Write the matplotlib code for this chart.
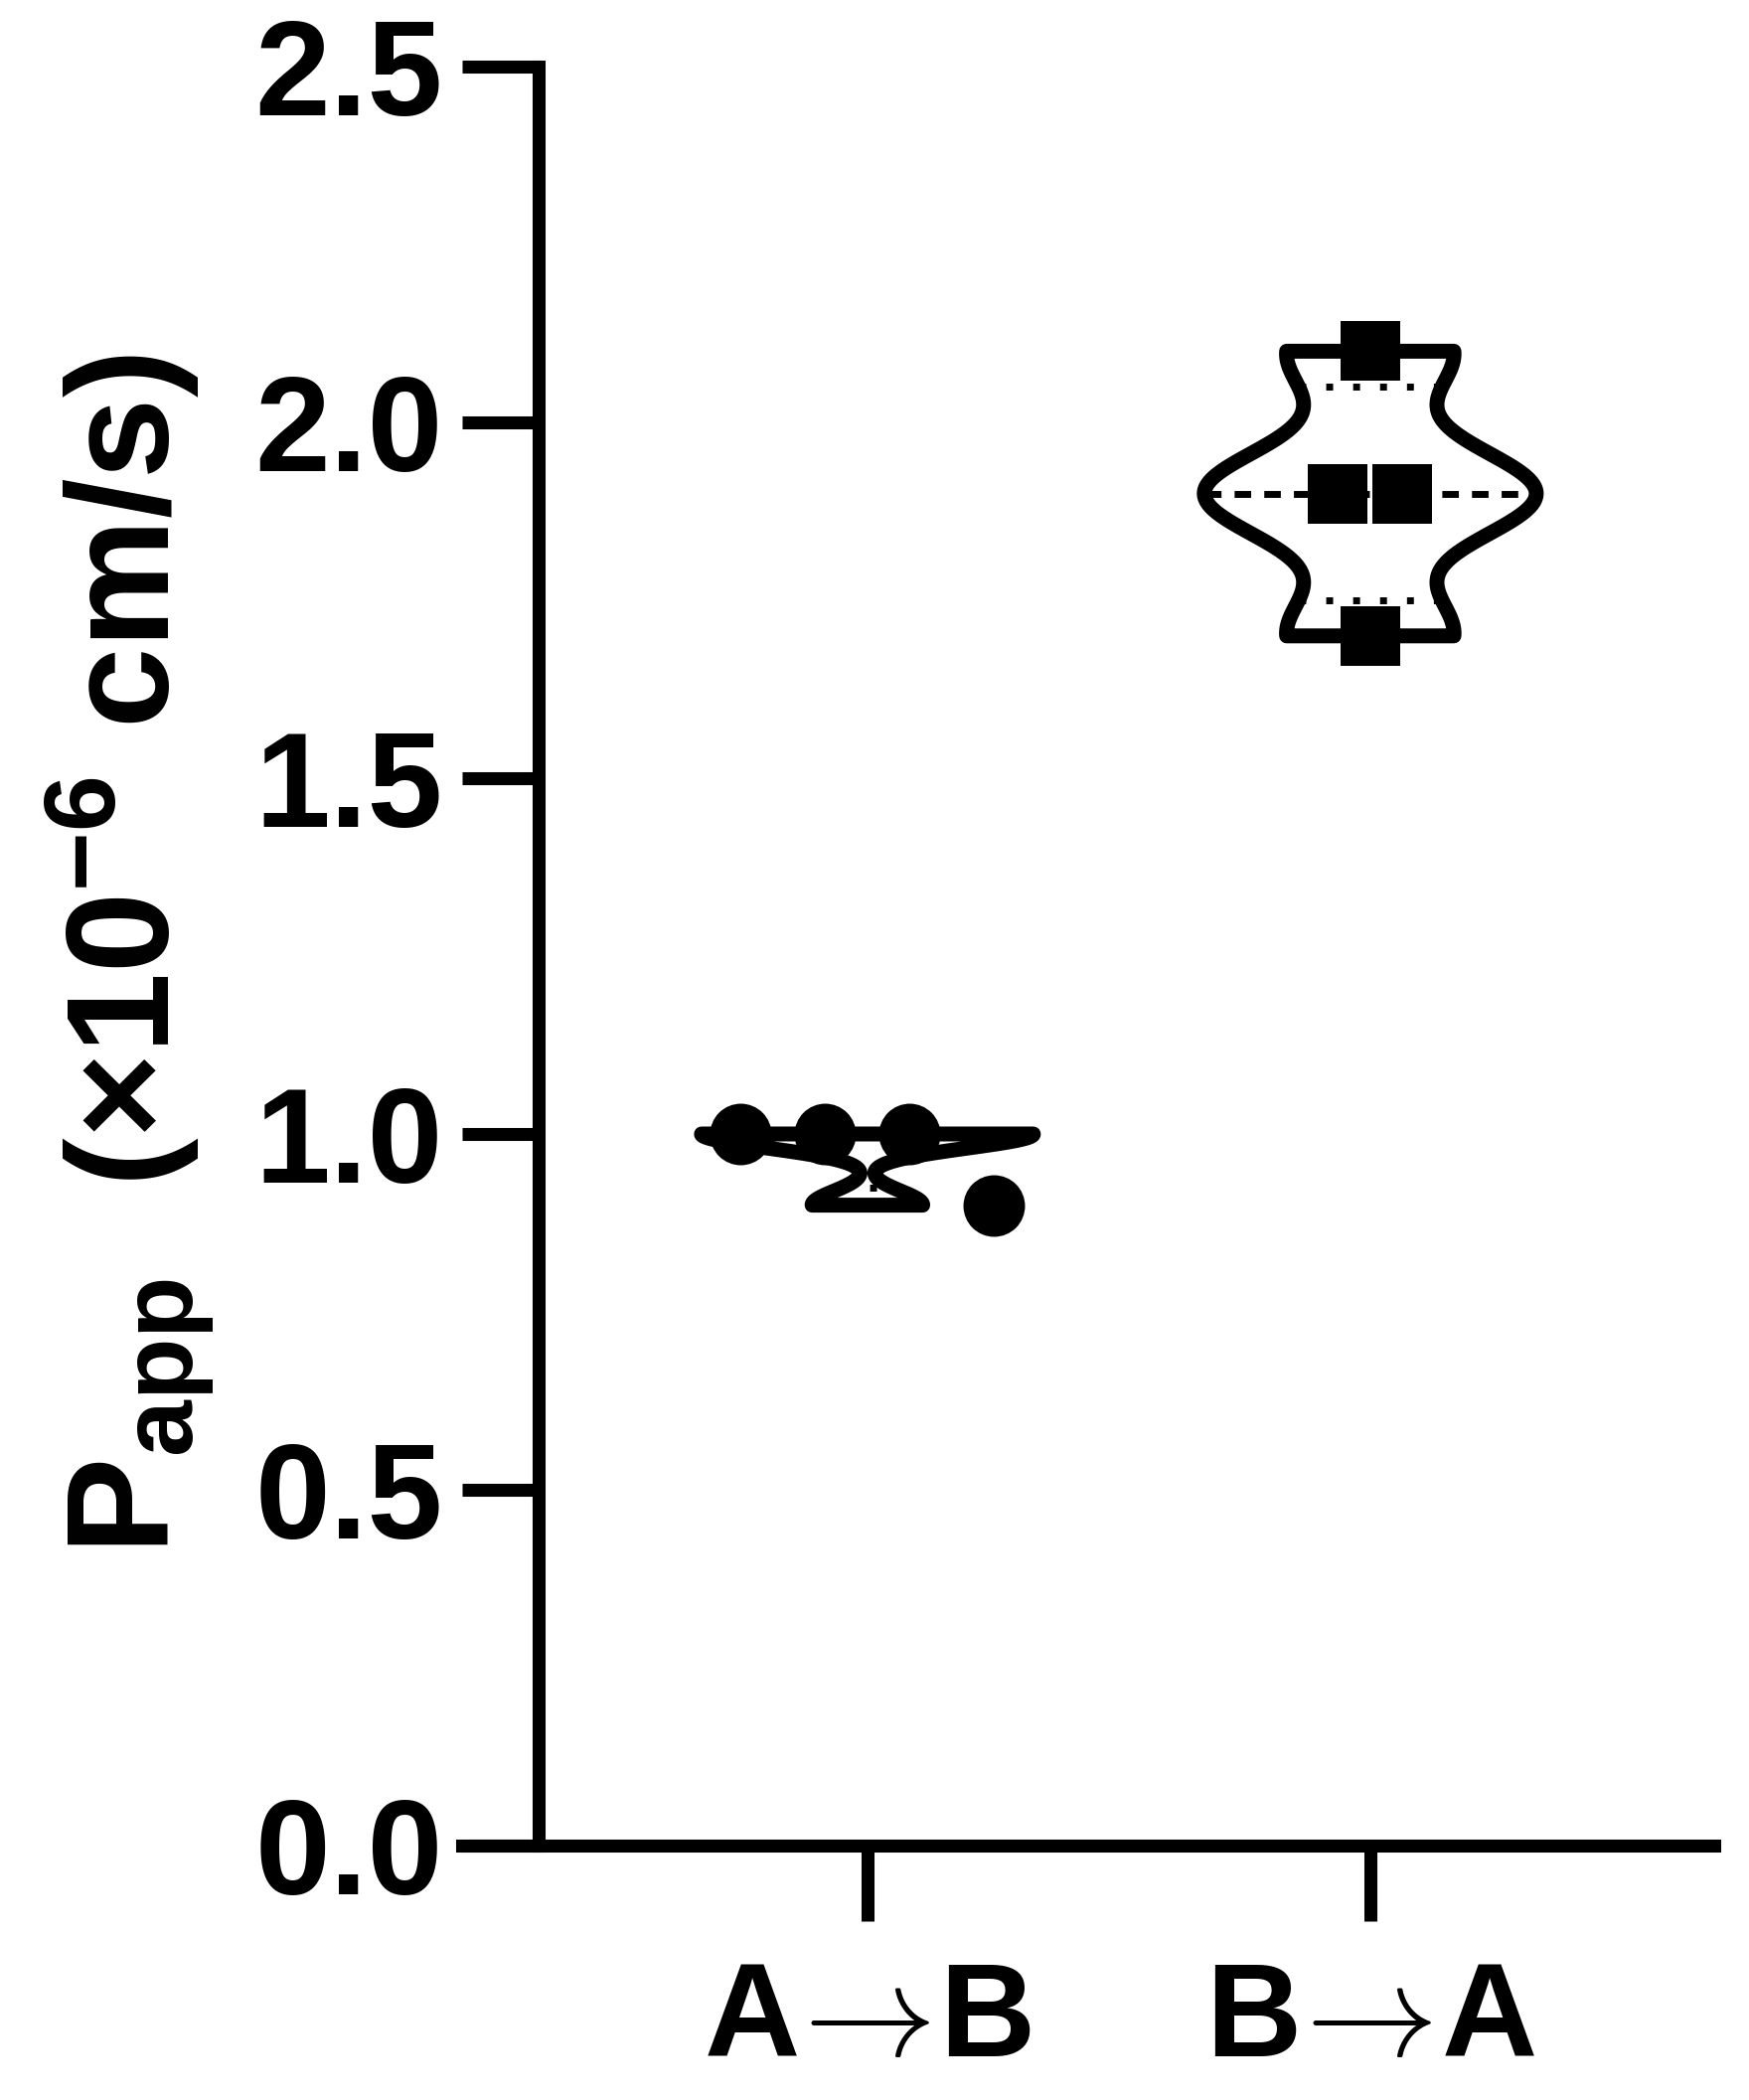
import numpy as np
import matplotlib
matplotlib.use('Agg')
import matplotlib.pyplot as plt

plt.rcParams['font.family'] = ['Liberation Sans', 'DejaVu Sans']
plt.rcParams['font.weight'] = 'bold'
plt.rcParams['mathtext.fontset'] = 'custom'
plt.rcParams['mathtext.rm'] = 'Liberation Sans:bold'
plt.rcParams['mathtext.it'] = 'Liberation Sans:bold'
plt.rcParams['mathtext.bf'] = 'Liberation Sans:bold'

# データ (Papp, x10^-6 cm/s)
groups = ['A$\\!\\rightarrow\\!$B', 'B$\\!\\rightarrow\\!$A']
papp_ab = [1.0, 1.0, 1.0, 0.9]
papp_ba = [2.1, 1.9, 1.9, 1.7]
yticks = [0.0, 0.5, 1.0, 1.5, 2.0, 2.5]

LW_AX = 9.4      # 軸の線幅 (pt)
LW_VIO = 10.8    # バイオリンの輪郭
HALF = 0.33      # バイオリンの最大半幅 (x単位)


def kde(vals, grid, scale=0.52):
    v = np.asarray(vals, dtype=float)
    h = scale * v.std(ddof=1) * len(v) ** (-0.2)
    return np.exp(-0.5 * ((grid[:, None] - v[None, :]) / h) ** 2).sum(axis=1)


def spread(vals, step, tol=0.12):
    # 値が近い点を横に並べる (beeswarm風)
    vals = np.asarray(vals, dtype=float)
    order = np.argsort(-vals, kind='stable')
    offs = np.zeros(len(vals))
    bins, cur = [], [order[0]]
    for i in order[1:]:
        if vals[cur[0]] - vals[i] <= tol:
            cur.append(i)
        else:
            bins.append(cur)
            cur = [i]
    bins.append(cur)
    for b in bins:
        n = len(b)
        for k, i in enumerate(b):
            offs[i] = (k - (n - 1) / 2) * step
    return offs


def violin(ax, pos, vals):
    y = np.linspace(min(vals), max(vals), 400)
    d = kde(vals, y)
    w = d / d.max() * HALF
    xs = np.concatenate([pos + w, (pos - w)[::-1]])
    ys = np.concatenate([y, y[::-1]])
    ax.fill(xs, ys, facecolor='white', edgecolor='none', zorder=2)
    q1, med, q3 = np.percentile(vals, [25, 50, 75], method='weibull')
    for q, dash in ((med, (2.4, 1.9)), (q1, (1.0, 2.9)), (q3, (1.0, 2.9))):
        wq = np.interp(q, y, w)
        ax.plot([pos - wq, pos + wq], [q, q], color='black', lw=5,
                dashes=dash, zorder=3)
    ax.fill(xs, ys, facecolor='none', edgecolor='black', lw=LW_VIO,
            joinstyle='round', zorder=4)


fig = plt.figure(figsize=(17.6, 21.13), dpi=100)
ax = fig.add_axes([465 / 1760, 1 - 1857 / 2113,
                   (1725 - 465) / 1760, (1857 - 67) / 2113])

violin(ax, 0, papp_ab)
violin(ax, 1, papp_ba)

ax.plot(0 + spread(papp_ab, 0.168), papp_ab, 'o', color='black',
        ms=44.6, mew=0, zorder=5)
ax.plot(1 + spread(papp_ba, 0.128), papp_ba, 's', color='black',
        ms=43, mew=0, zorder=5)

ax.set_xlim(-0.806, 1.684)
ax.set_ylim(0, 2.5)
ax.spines['top'].set_visible(False)
ax.spines['right'].set_visible(False)
ax.spines['left'].set_position(('axes', 77 / 1260))
ax.spines['left'].set_linewidth(LW_AX)
ax.spines['bottom'].set_linewidth(LW_AX)

ax.set_yticks(yticks)
ax.set_yticklabels(['{:.1f}'.format(v) for v in yticks])
ax.set_xticks([0, 1])
ax.set_xticklabels(groups)
ax.tick_params(axis='y', length=55.4, width=LW_AX, pad=14, labelsize=98)
ax.tick_params(axis='x', length=55, width=LW_AX, pad=28, labelsize=96)
for t in ax.get_xticklabels():
    t.set_math_fontfamily('cm')

fig.text(172 / 1760, 1 - 960 / 2113,
         r'$\mathbf{P_{app}\ \ (×10^{-6}\ cm/s)}$',
         rotation=90, rotation_mode='anchor', ha='center', va='baseline',
         fontsize=105)

fig.savefig('out.png', dpi=100)
